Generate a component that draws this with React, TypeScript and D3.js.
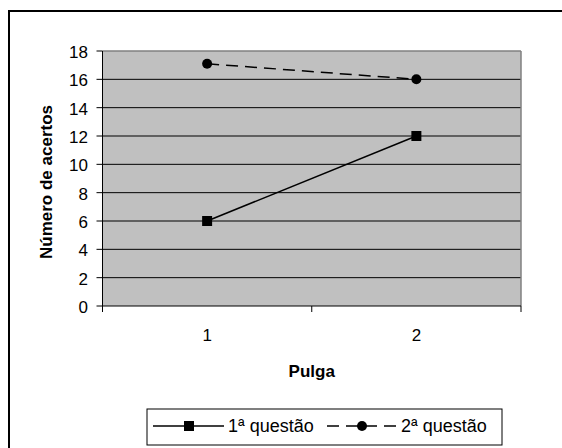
import React from "react";
import * as d3 from "d3";

const categories = ["1", "2"];
const serie1 = [6, 12];
const serie2 = [17.1, 16];
const seriesNames = ["1ª questão", "2ª questão"];
const yTicks = [0, 2, 4, 6, 8, 10, 12, 14, 16, 18];

export default function App() {
  const W = 562, H = 448;
  const left = 102.5, right = 521, top = 51, bottom = 306;
  const x = d3.scaleBand().domain(categories).range([left, right]);
  const y = d3.scaleLinear().domain([0, 18]).range([bottom, top]);
  const cx = (c: string) => (x(c) as number) + x.bandwidth() / 2;
  const line = d3.line<[number, number]>().x(d => d[0]).y(d => d[1]);
  const p1 = categories.map((c, i) => [cx(c), y(serie1[i])] as [number, number]);
  const p2 = categories.map((c, i) => [cx(c), y(serie2[i])] as [number, number]);
  const font = "Arial, 'Liberation Sans', sans-serif";
  const xTickPos = [left, ...categories.slice(1).map(c => x(c) as number), right];
  const legY = 426;
  const fs = 17;
  return (
    <svg width={W} height={H} style={{ position: "absolute", left: 0, top: 0 }} fontFamily={font}>
      <rect x={0} y={0} width={W} height={H} fill="#fff" />
      <rect x={9} y={11} width={700} height={600} fill="none" stroke="#000" strokeWidth={2} />
      <rect x={left} y={top} width={right - left} height={bottom - top} fill="#C0C0C0" />
      {yTicks.filter(t => t > 0 && t < 18).map(t => (
        <line key={t} x1={left} x2={right} y1={y(t)} y2={y(t)} stroke="#000" strokeWidth={1} />
      ))}
      <line x1={left} x2={right} y1={top} y2={top} stroke="#808080" strokeWidth={1.5} />
      <line x1={right} x2={right} y1={top} y2={bottom} stroke="#808080" strokeWidth={1.5} />
      <line x1={left} x2={left} y1={top} y2={bottom} stroke="#000" strokeWidth={1} />
      <line x1={left} x2={right} y1={bottom} y2={bottom} stroke="#000" strokeWidth={1} />
      {yTicks.map(t => (
        <g key={t}>
          <line x1={left - 6} x2={left} y1={y(t)} y2={y(t)} stroke="#000" />
          <text x={left - 14.5} y={y(t)} dy="0.42em" textAnchor="end" fontSize={fs}>{t}</text>
        </g>
      ))}
      {xTickPos.map((p, i) => (
        <line key={i} x1={p} x2={p} y1={bottom} y2={bottom + 6} stroke="#000" />
      ))}
      {categories.map(c => (
        <text key={c} x={cx(c)} y={335} dy="0.36em" textAnchor="middle" fontSize={fs}>{c}</text>
      ))}
      <text x={(left + right) / 2} y={371} dy="0.36em" textAnchor="middle" fontSize={fs} fontWeight="bold">Pulga</text>
      <text transform={`translate(52,182) rotate(-90)`} textAnchor="middle" fontSize={fs} fontWeight="bold">Número de acertos</text>
      <path d={line(p1) || ""} fill="none" stroke="#000" strokeWidth={1.5} />
      {p1.map((p, i) => <rect key={i} x={p[0] - 5} y={p[1] - 5} width={10} height={10} fill="#000" />)}
      <path d={line(p2) || ""} fill="none" stroke="#000" strokeWidth={1.5} strokeDasharray="12 7" />
      {p2.map((p, i) => <circle key={i} cx={p[0]} cy={p[1]} r={5} fill="#000" />)}
      <rect x={147} y={409} width={355} height={36} fill="#fff" stroke="#000" strokeWidth={1} />
      <line x1={153} x2={224} y1={legY} y2={legY} stroke="#000" strokeWidth={1.5} />
      <rect x={189 - 5} y={legY - 5} width={10} height={10} fill="#000" />
      <text x={228} y={432} fontSize={18}>{seriesNames[0]}</text>
      <line x1={327} x2={397} y1={legY} y2={legY} stroke="#000" strokeWidth={1.5} strokeDasharray="12 7" />
      <circle cx={362} cy={legY} r={5} fill="#000" />
      <text x={401} y={432} fontSize={18}>{seriesNames[1]}</text>
    </svg>
  );
}
